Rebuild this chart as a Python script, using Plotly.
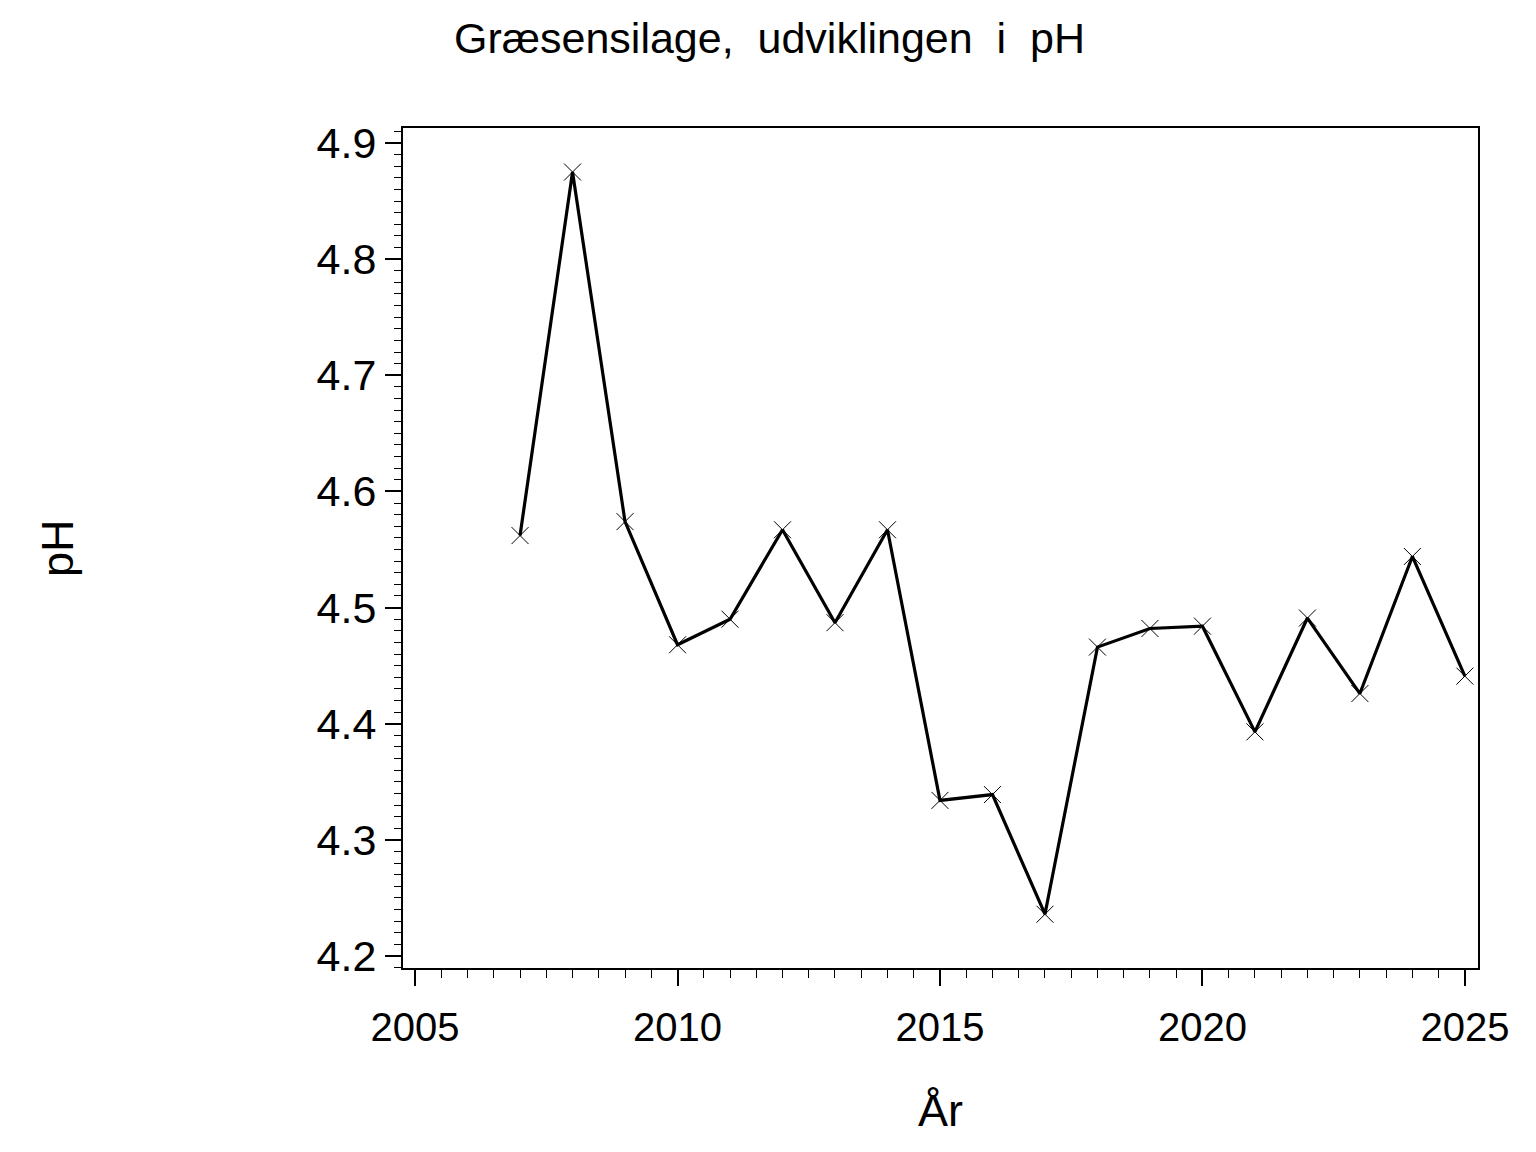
import plotly.graph_objects as go

years = [2007, 2008, 2009, 2010, 2011, 2012, 2013, 2014, 2015, 2016,
         2017, 2018, 2019, 2020, 2021, 2022, 2023, 2024, 2025]
ph = [4.562, 4.875, 4.574, 4.468, 4.490, 4.567, 4.487, 4.567, 4.334, 4.339,
      4.236, 4.466, 4.482, 4.484, 4.393, 4.491, 4.426, 4.544, 4.441]

title_text = "Græsensilage,  udviklingen  i  pH"
x_title = "År"
y_title = "pH"
x_ticks = [2005, 2010, 2015, 2020, 2025]
y_ticks = [4.2, 4.3, 4.4, 4.5, 4.6, 4.7, 4.8, 4.9]

FONT = "Liberation Sans, Arial, sans-serif"

# plot area in screen pixels (page has 8px body margin)
L, R, T, B = 403, 1478, 128, 968
PW, PH = R - L, B - T

fig = go.Figure()
fig.add_trace(go.Scatter(
    x=years, y=ph, mode="lines+markers",
    line=dict(color="black", width=3.2),
    marker=dict(symbol="x-thin-open", size=17, color="black",
                line=dict(color="black", width=1)),
    showlegend=False,
))

fig.update_layout(
    width=1536, height=1152,
    paper_bgcolor="white", plot_bgcolor="white",
    margin=dict(l=L - 8, r=1536 - R + 8, t=T - 8, b=1152 - B + 8),
    font=dict(family=FONT, color="black", size=42),
    showlegend=False,
)
fig.add_annotation(text=title_text, xref="paper", yref="paper",
                   x=(769 - L) / PW, y=1 + (T - 38) / PH,
                   xanchor="center", yanchor="middle", showarrow=False,
                   font=dict(size=43, family=FONT))
fig.add_annotation(text=x_title, xref="paper", yref="paper",
                   x=(940 - L) / PW, y=-(1110 - B) / PH,
                   xanchor="center", yanchor="middle", showarrow=False,
                   font=dict(size=45, family=FONT))
fig.add_annotation(text=y_title, xref="paper", yref="paper",
                   x=-(L - 57) / PW, y=0.5, textangle=-90,
                   xanchor="center", yanchor="middle", showarrow=False,
                   font=dict(size=45, family=FONT))

fig.update_xaxes(
    range=[2004.77, 2025.25],
    tickmode="array", tickvals=x_ticks, ticktext=[str(t) for t in x_ticks],
    ticks="outside", ticklen=16, tickwidth=1.5, tickcolor="black",
    showline=True, linecolor="black", linewidth=2, mirror=True,
    showgrid=False, zeroline=False,
    tickfont=dict(size=40, family=FONT),
    ticklabelstandoff=7,
    minor=dict(dtick=0.5, tick0=2005, ticks="outside", ticklen=8,
               tickwidth=1, tickcolor="black", showgrid=False),
)
fig.update_yaxes(
    range=[4.1897, 4.9129],
    tickmode="array", tickvals=y_ticks, ticktext=[f"{t:.1f}" for t in y_ticks],
    ticks="outside", ticklen=16, tickwidth=1.5, tickcolor="black",
    showline=True, linecolor="black", linewidth=2, mirror=True,
    showgrid=False, zeroline=False,
    tickfont=dict(size=43, family=FONT),
    ticklabelstandoff=0,
    minor=dict(dtick=0.01, tick0=4.2, ticks="outside", ticklen=7,
               tickwidth=1, tickcolor="black", showgrid=False),
)

fig.write_html("out.html")
